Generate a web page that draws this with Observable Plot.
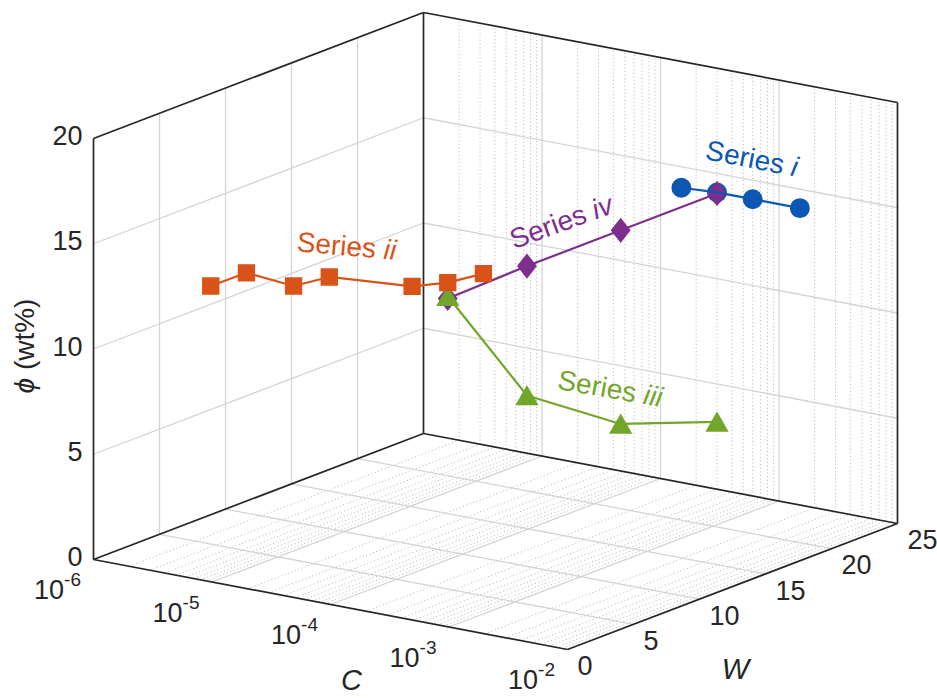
<!DOCTYPE html>
<html><head><meta charset="utf-8">
<script src="https://cdn.jsdelivr.net/npm/d3@7"></script>
<script src="https://cdn.jsdelivr.net/npm/@observablehq/plot@0.6"></script>
<style>body{margin:0;background:#fff} svg{display:block}</style>
</head><body><div id="chart"></div>
<script>
// ---------- axis ticks ----------
const cTicks = [1e-6, 1e-5, 1e-4, 1e-3, 1e-2];
const cTickExps = ["-6", "-5", "-4", "-3", "-2"];
const wTicks = [0, 5, 10, 15, 20, 25];
const phiTicks = [0, 5, 10, 15, 20];

// ---------- series (C, W, Φ) ----------
const s1C = [1.5e-4, 3e-4, 6e-4, 1.5e-3];
const s1W = [25, 25, 25, 25];
const s1Phi = [14.0, 14.1, 14.1, 14.1];

const s2C = [3e-6, 6e-6, 1.5e-5, 3e-5, 1.5e-4, 3e-4, 6e-4];
const s2W = [4.6, 4.6, 4.6, 4.6, 4.6, 4.6, 4.6];
const s2Phi = [12.4, 13.35, 13.15, 13.9, 14.2, 14.7, 15.45];

const s3C = [3e-4, 3e-4, 3e-4, 3e-4];
const s3W = [4.6, 10.6, 17.7, 25];
const s3Phi = [14.05, 7.9, 4.85, 3.2];

const s4C = [3e-4, 3e-4, 3e-4, 3e-4];
const s4W = [4.6, 10.6, 17.7, 25];
const s4Phi = [13.95, 14.05, 14.05, 14.05];

// series labels: numeral, anchor point (C, W, Φ), tilt
const labelNum = ["i", "ii", "iii", "iv"];
const labelC = [5.9e-4, 4.2e-5, 3e-4, 3e-4];
const labelW = [25, 4.6, 16.9, 13.2];
const labelPhi = [16.0, 15.5, 6.7, 15.5];
const labelRot = [11, 5, 10, -20];
const colors = ["#0b57b3", "#D95319", "#72A62B", "#7E2F8E"];

// ---------- 3D view (orthographic projection of the box) ----------
const cS = d3.scaleLog().domain([1e-6, 1e-2]).range([0, 1]);
const wS = d3.scaleLinear().domain([0, 25]).range([0, 1]);
const pS = d3.scaleLinear().domain([0, 20]).range([0, 1]);
const O = [93, 559], VC = [474, 90], VW = [330, -126], VP = [0, -421];
function proj(C, W, P) {
  const c = cS(C), w = wS(W), p = pS(P);
  return [O[0] + VC[0]*c + VW[0]*w + VP[0]*p, O[1] + VC[1]*c + VW[1]*w + VP[1]*p];
}
function seg(a, b) {
  const [x1, y1] = proj(...a), [x2, y2] = proj(...b);
  return {x1, y1, x2, y2};
}
function pts(C, W, P) { return C.map((c, i) => { const [x, y] = proj(c, W[i], P[i]); return {x, y}; }); }

const C0 = 1e-6, C1 = 1e-2, W0 = 0, W1 = 25, P0 = 0, P1 = 20;
const cMajorInner = cTicks.slice(1, -1);
const cMinor = [];
for (let k = -6; k < -2; k++) for (let m = 2; m <= 9; m++) cMinor.push(m * Math.pow(10, k));
const wInner = wTicks.slice(1, -1);
const pInner = phiTicks.slice(1, -1);

const solidGrid = [
  ...wInner.map(w => seg([C0, w, P0], [C1, w, P0])),        // floor, W lines
  ...cMajorInner.map(c => seg([c, W0, P0], [c, W1, P0])),   // floor, C lines
  ...cMajorInner.map(c => seg([c, W1, P0], [c, W1, P1])),   // back wall, C verticals
  ...pInner.map(p => seg([C0, W1, p], [C1, W1, p])),        // back wall, Φ lines
  ...wInner.map(w => seg([C0, w, P0], [C0, w, P1])),        // left wall, W verticals
  ...pInner.map(p => seg([C0, W0, p], [C0, W1, p]))         // left wall, Φ lines
];
const dottedGrid = [
  ...cMinor.map(c => seg([c, W0, P0], [c, W1, P0])),
  ...cMinor.map(c => seg([c, W1, P0], [c, W1, P1]))
];
const boxEdges = [
  seg([C0, W0, P0], [C0, W0, P1]),
  seg([C0, W1, P0], [C0, W1, P1]),
  seg([C1, W1, P0], [C1, W1, P1]),
  seg([C0, W0, P1], [C0, W1, P1]),
  seg([C0, W1, P1], [C1, W1, P1]),
  seg([C0, W0, P0], [C1, W0, P0]),
  seg([C1, W0, P0], [C1, W1, P0]),
  seg([C0, W0, P0], [C0, W1, P0]),
  seg([C0, W1, P0], [C1, W1, P0])
];

// markers
const symSquare = {draw(ctx, size){ const r = Math.sqrt(size/Math.PI), h = r*0.88;
  ctx.moveTo(-h,-h); ctx.lineTo(h,-h); ctx.lineTo(h,h); ctx.lineTo(-h,h); ctx.closePath(); }};
const symDiamond = {draw(ctx, size){ const r = Math.sqrt(size/Math.PI);
  ctx.moveTo(0,-1.27*r); ctx.lineTo(r,0); ctx.lineTo(0,1.27*r); ctx.lineTo(-r,0); ctx.closePath(); }};
const symTriangle = {draw(ctx, size){ const r = Math.sqrt(size/Math.PI);
  ctx.moveTo(0,-r); ctx.lineTo(1.15*r,r); ctx.lineTo(-1.15*r,r); ctx.closePath(); }};

const d1 = pts(s1C, s1W, s1Phi), d2 = pts(s2C, s2W, s2Phi), d3s = pts(s3C, s3W, s3Phi), d4 = pts(s4C, s4W, s4Phi);

const cLab = cTicks.map((c, i) => { const [x, y] = proj(c, W0, P0); return {x, y, t: "10^" + cTickExps[i]}; });
const wLab = wTicks.map(w => { const [x, y] = proj(C1, w, P0); return {x, y, t: String(w)}; });
const pLab = phiTicks.map(p => { const [x, y] = proj(C0, W0, p); return {x, y, t: String(p)}; });
const sLab = labelNum.map((n, i) => { const [x, y] = proj(labelC[i], labelW[i], labelPhi[i]); return {x, y, t: "Series |" + n, r: labelRot[i], col: colors[i]}; });
const axLab = [
  (() => { const [x, y] = proj(1e-4, W0, P0); return {x, y, t: "C"}; })(),
  (() => { const [x, y] = proj(C1, 12.5, P0); return {x, y, t: "W"}; })(),
  (() => { const [x, y] = proj(C0, W0, 10); return {x, y, t: "|ϕ| (wt%)"}; })()
];

const FONT = "'Liberation Sans', Arial, Helvetica, sans-serif";
const TXT = "#262626";

const svg = Plot.plot({
  width: 937, height: 698, margin: 0,
  x: {type: "identity", axis: null},
  y: {type: "identity", axis: null},
  style: {fontFamily: FONT, background: "white", color: TXT},
  marks: [
    Plot.link(dottedGrid, {x1: "x1", y1: "y1", x2: "x2", y2: "y2", stroke: "#b4b4b4", strokeWidth: 1, strokeDasharray: "1,2.6"}),
    Plot.link(solidGrid, {x1: "x1", y1: "y1", x2: "x2", y2: "y2", stroke: "#d4d4d4", strokeWidth: 1.3}),
    Plot.link(boxEdges, {x1: "x1", y1: "y1", x2: "x2", y2: "y2", stroke: "#262626", strokeWidth: 1.7}),
    // series
    Plot.dot(d1, {x: "x", y: "y", r: 9.2, symbol: "circle", fill: colors[0], stroke: colors[0]}),
    Plot.line(d4, {x: "x", y: "y", stroke: colors[3], strokeWidth: 2.2}),
    Plot.dot(d4, {x: "x", y: "y", r: 9, symbol: symDiamond, fill: colors[3], stroke: colors[3]}),
    Plot.line(d1, {x: "x", y: "y", stroke: colors[0], strokeWidth: 2.2}),
    Plot.line(d3s, {x: "x", y: "y", stroke: colors[2], strokeWidth: 2.2}),
    Plot.dot(d3s, {x: "x", y: "y", r: 9, symbol: symTriangle, fill: colors[2], stroke: colors[2]}),
    Plot.line(d2, {x: "x", y: "y", stroke: colors[1], strokeWidth: 2.2}),
    Plot.dot(d2, {x: "x", y: "y", r: 9, symbol: symSquare, fill: colors[1], stroke: colors[1]}),
    // tick labels
    Plot.text(pLab, {x: "x", y: "y", text: "t", dx: -11, dy: -2, textAnchor: "end", fontSize: 27, fill: TXT}),
    Plot.text(wLab, {x: "x", y: "y", text: "t", dx: 10, dy: 17, textAnchor: "start", fontSize: 27, fill: TXT}),
    Plot.text(cLab, {x: "x", y: "y", text: "t", dx: -36, dy: 31, textAnchor: "middle", fontSize: 27, fill: TXT}),
    // axis labels
    Plot.text(axLab.slice(0, 1), {x: "x", y: "y", text: "t", dx: 21, dy: 76, fontSize: 29, fontStyle: "italic", fill: TXT}),
    Plot.text(axLab.slice(1, 2), {x: "x", y: "y", text: "t", dx: 3, dy: 83, fontSize: 29, fontStyle: "italic", fill: TXT}),
    Plot.text(axLab.slice(2, 3), {x: "x", y: "y", text: "t", dx: -68, dy: -3, rotate: -90, fontSize: 28, fill: TXT}),
    // series labels
    Plot.text(sLab, {x: "x", y: "y", text: "t", rotate: "r", fill: "col", fontSize: 28})
  ]
});

// typographic post-processing: superscripts and italic parts
d3.select(svg).selectAll("text").each(function() {
  const t = d3.select(this);
  const s = this.textContent;
  if (s.includes("^")) {
    const [base, exp] = s.split("^");
    t.text(null);
    t.append("tspan").text(base);
    t.append("tspan").attr("dy", -13).attr("font-size", 19).text(exp);
  } else if (s.startsWith("Series |")) {
    t.text(null);
    t.append("tspan").text("Series ");
    t.append("tspan").attr("font-style", "italic").text(s.split("|")[1]);
  } else if (s.startsWith("|")) {
    const parts = s.split("|");
    t.text(null);
    t.append("tspan").attr("font-style", "italic").text(parts[1]);
    t.append("tspan").text(parts[2]);
  }
});
document.getElementById("chart").appendChild(svg);
</script>
</body></html>
